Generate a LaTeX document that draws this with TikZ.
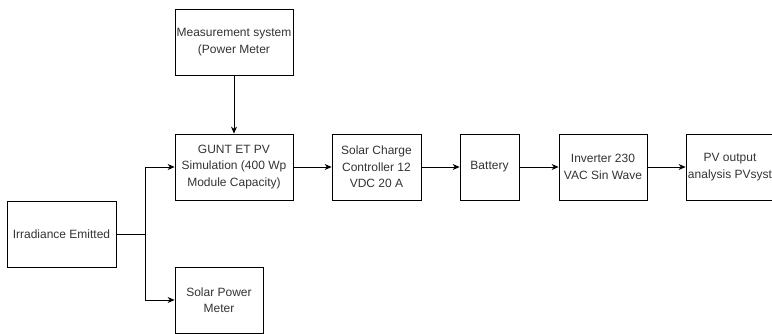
\documentclass[tikz,border=0pt]{standalone}
\usepackage{fontspec}
\setmainfont{Liberation Sans}
\usetikzlibrary{arrows.meta}
\begin{document}
\begin{tikzpicture}[x=1pt,y=-1pt,line width=0.8pt,>={Stealth[length=7pt,width=6pt]},
	font=\fontsize{12}{16.5}\selectfont,
	blk/.style={draw,text=black!80,align=center,inner sep=1pt}]
	\useasboundingbox (0,0) rectangle (772,334);
	
	\node[blk,minimum width=118,minimum height=66] (meas) at (234,42) {Measurement system\\(Power Meter};
	\node[blk,minimum width=118,minimum height=66] (gunt) at (234,167) {GUNT ET PV\\Simulation (400 Wp\\Module Capacity)};
	\node[blk,minimum width=109,minimum height=66] (irr) at (61.5,234) {Irradiance Emitted};
	\node[blk,minimum width=88,minimum height=66] (spm) at (219,300) {Solar Power\\Meter};
	\node[blk,minimum width=89,minimum height=66] (scc) at (376.5,167) {Solar Charge\\Controller 12\\VDC 20 A};
	\node[blk,minimum width=59,minimum height=66] (bat) at (489.5,167) {Battery};
	\node[blk,minimum width=88,minimum height=66] (inv) at (603,167) {Inverter 230\\VAC Sin Wave};
	\node[blk,minimum width=88,minimum height=66] (pvo) at (730,167) {PV output\\analysis PVsyst};
	
	\coordinate (split) at (145,234);
	
	\draw[->] (meas) -- (gunt);
	\draw (irr) -- (split);
	\draw[->] (split) |- (gunt);
	\draw[->] (split) |- (spm);
	\draw[->] (gunt) -- (scc);
	\draw[->] (scc) -- (bat);
	\draw[->] (bat) -- (inv);
	\draw[->] (inv) -- (pvo);
\end{tikzpicture}
\end{document}
